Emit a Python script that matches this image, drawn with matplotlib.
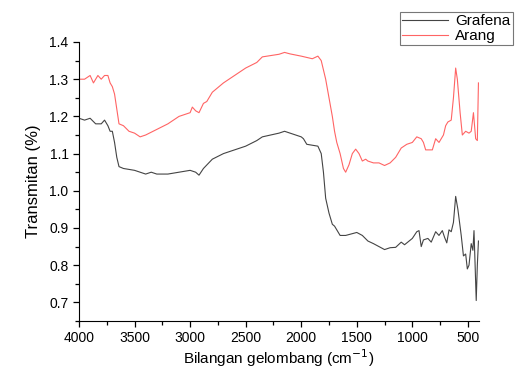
import matplotlib.pyplot as plt
from matplotlib.ticker import MultipleLocator

plt.rcParams['font.family'] = ['Liberation Sans', 'DejaVu Sans']

# Arang (red) spectrum
arang_x = [4000, 3950, 3900, 3870, 3830, 3800, 3770, 3740, 3720, 3700, 3680, 3660,
           3640, 3600, 3550, 3500, 3450, 3400, 3300, 3200, 3100, 3000, 2980, 2950,
           2920, 2880, 2850, 2800, 2700, 2600, 2500, 2400, 2350, 2200, 2150, 2100,
           2000, 1900, 1850, 1820, 1780, 1750, 1720, 1700, 1680, 1650, 1620, 1600,
           1570, 1540, 1510, 1480, 1450, 1420, 1400, 1350, 1300, 1250, 1200, 1150,
           1100, 1050, 1000, 960, 920, 900, 880, 850, 820, 790, 760, 720, 700, 680,
           650, 630, 610, 595, 570, 550, 520, 490, 470, 450, 430, 415, 405]
arang_y = [1.30, 1.30, 1.31, 1.29, 1.31, 1.30, 1.31, 1.31, 1.29, 1.28, 1.26, 1.22,
           1.18, 1.175, 1.16, 1.155, 1.145, 1.15, 1.165, 1.18, 1.20, 1.21, 1.225, 1.215,
           1.21, 1.235, 1.24, 1.265, 1.29, 1.31, 1.33, 1.345, 1.36, 1.367, 1.372, 1.368,
           1.362, 1.355, 1.362, 1.35, 1.30, 1.25, 1.20, 1.16, 1.13, 1.10, 1.06, 1.05,
           1.07, 1.10, 1.112, 1.10, 1.08, 1.085, 1.08, 1.075, 1.075, 1.068, 1.075, 1.09,
           1.115, 1.125, 1.13, 1.145, 1.14, 1.13, 1.11, 1.11, 1.11, 1.14, 1.13, 1.15, 1.175, 1.185,
           1.19, 1.25, 1.33, 1.30, 1.21, 1.15, 1.16, 1.155, 1.16, 1.21, 1.14, 1.135, 1.29]

# Grafena (black) spectrum
grafena_x = [4000, 3950, 3900, 3850, 3800, 3770, 3740, 3720, 3700, 3680, 3660, 3640,
             3600, 3500, 3400, 3350, 3300, 3200, 3100, 3000, 2950, 2920, 2880, 2800,
             2700, 2600, 2500, 2400, 2350, 2200, 2150, 2100, 2000, 1980, 1950, 1850,
             1820, 1800, 1780, 1750, 1720, 1700, 1650, 1600, 1500, 1450, 1400, 1350,
             1300, 1250, 1200, 1150, 1100, 1070, 1000, 960, 940, 920, 900, 860, 830,
             790, 760, 730, 710, 690, 670, 650, 630, 610, 590, 560, 540, 520, 505,
             490, 470, 455, 445, 435, 425, 415, 405]
grafena_y = [1.195, 1.19, 1.195, 1.18, 1.18, 1.19, 1.175, 1.16, 1.16, 1.13, 1.09, 1.065,
             1.06, 1.055, 1.045, 1.05, 1.045, 1.045, 1.05, 1.055, 1.05, 1.042, 1.06, 1.085,
             1.10, 1.11, 1.12, 1.135, 1.145, 1.155, 1.16, 1.155, 1.145, 1.14, 1.125, 1.12,
             1.10, 1.05, 0.98, 0.94, 0.91, 0.905, 0.88, 0.88, 0.888, 0.88, 0.865, 0.858,
             0.85, 0.842, 0.847, 0.848, 0.862, 0.855, 0.872, 0.89, 0.893, 0.85, 0.868, 0.872, 0.862,
             0.89, 0.88, 0.893, 0.875, 0.86, 0.895, 0.89, 0.915, 0.985, 0.95, 0.88, 0.825, 0.83, 0.79,
             0.80, 0.858, 0.84, 0.893, 0.80, 0.705, 0.80, 0.865]

fig = plt.figure(figsize=(5.16, 3.69), dpi=100)
ax = fig.add_axes([79 / 516, 1 - 321 / 369, (479 - 79) / 516, (321 - 42) / 369])

l1, = ax.plot(grafena_x, grafena_y, color='#444444', lw=0.8, label='Grafena')
l2, = ax.plot(arang_x, arang_y, color='#ff6464', lw=0.8, label='Arang')

ax.set_xlim(4000, 400)
ax.set_ylim(0.65, 1.4)
ax.xaxis.set_major_locator(MultipleLocator(500))
ax.xaxis.set_minor_locator(MultipleLocator(250))
ax.yaxis.set_minor_locator(MultipleLocator(0.05))
ax.set_yticks([0.7, 0.8, 0.9, 1.0, 1.1, 1.2, 1.3, 1.4])
ax.tick_params(which='both', direction='out', labelsize=10, width=0.9)
ax.tick_params(which='major', length=4)
ax.tick_params(which='minor', length=3)
ax.spines['top'].set_visible(False)
ax.spines['right'].set_visible(False)

ax.set_xlabel('Bilangan gelombang (cm$^{-1}$)', fontsize=11, labelpad=1)
ax.set_ylabel('Transmitan (%)', fontsize=12, labelpad=6)

leg = fig.legend(handles=[l1, l2], loc='upper right', bbox_to_anchor=(513 / 516, 1 - 12 / 369),
                 fontsize=11, frameon=True, fancybox=False, edgecolor='#555555',
                 handlelength=3.0, borderpad=0.15, labelspacing=0.05, handletextpad=0.5,
                 borderaxespad=0)
leg.get_frame().set_linewidth(0.8)

fig.savefig('out.png', dpi=100)
